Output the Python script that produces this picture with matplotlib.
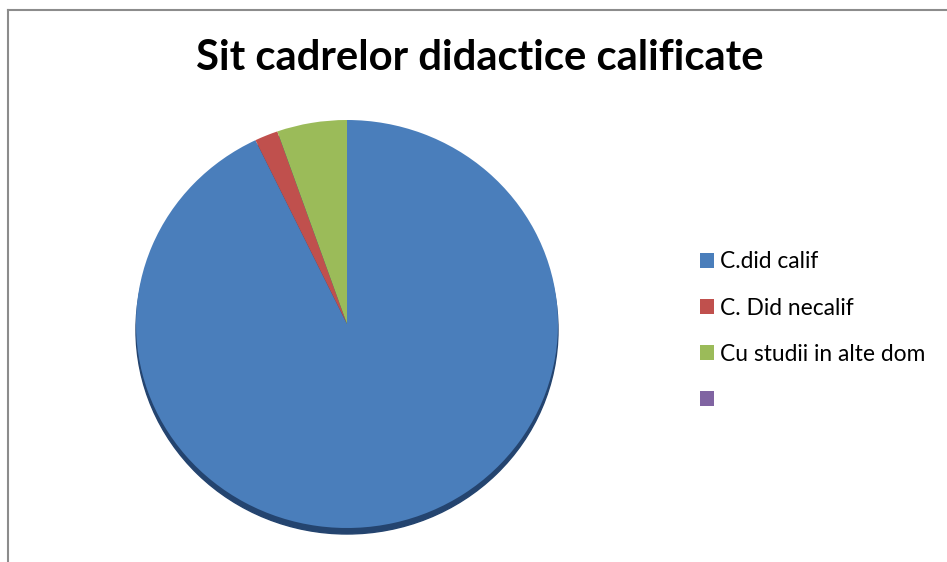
import matplotlib.pyplot as plt
from matplotlib.patches import Ellipse

categories = ["C.did calif", "C. Did necalif", "Cu studii in alte dom", ""]
values = [52, 1, 3, 0]
colors = ["#4a7ebb", "#c0504d", "#9bbb59", "#8064a2"]

W, H = 947, 562
fig = plt.figure(figsize=(W / 100, H / 100), dpi=100)
fig.patch.set_facecolor("white")

# axes in pixel-like units; y squeezed a little for the tilted look
ysq = 204 / 211
ax = fig.add_axes([0, 0, 1, 1])
cx, cy = 347, (H - 324) / ysq

# bottom rim / shadow
ax.add_patch(Ellipse((cx, cy - 6 / ysq), 2 * 211, 2 * 211, color="#24446f", zorder=0))

wedges, _ = ax.pie(values, colors=colors, startangle=90, counterclock=False,
                   center=(cx, cy), radius=211, wedgeprops=dict(linewidth=0))
ax.set_aspect("auto")
ax.set_xlim(0, W)
ax.set_ylim(0, H / ysq)
ax.axis("off")

# border lines (top and left)
fig.add_artist(plt.Line2D([7.5 / W, 1], [1 - 9.5 / H, 1 - 9.5 / H], color="#8c8c8c", lw=1.5))
fig.add_artist(plt.Line2D([7.5 / W, 7.5 / W], [0, 1 - 9.5 / H], color="#8c8c8c", lw=1.5))

fig.text(480 / W, 1 - 58 / H, "Sit cadrelor didactice calificate", ha="center", va="center",
         fontsize=30.2, fontweight="bold", family="Lato")

leg = fig.legend(wedges, categories, loc="upper left", bbox_to_anchor=(679 / W, 1 - 231 / H),
                 frameon=False, handlelength=0.62, handleheight=0.62, handletextpad=0.3,
                 labelspacing=1.1, prop=dict(family="Lato", size=16.4))

fig.savefig("out.png", dpi=100)
